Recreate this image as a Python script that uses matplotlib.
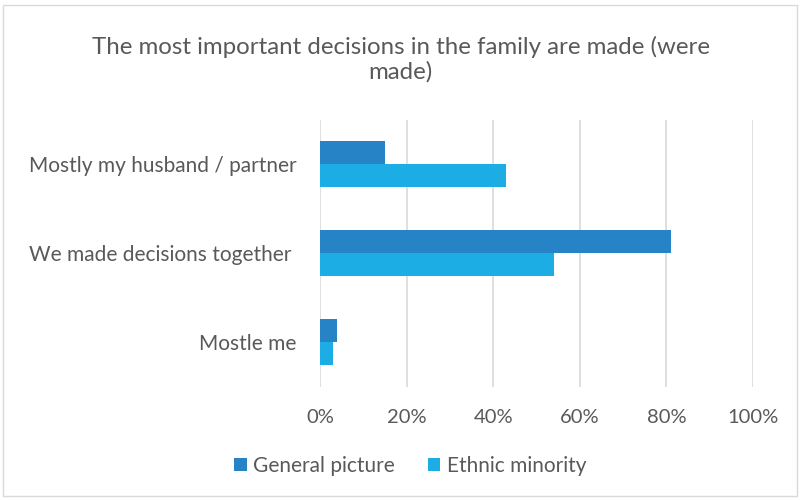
import numpy as np
import matplotlib.pyplot as plt
from matplotlib.patches import Rectangle

categories = ['Mostle me', 'We made decisions together ', 'Mostly my husband / partner']
general = [4, 81, 15]
ethnic = [3, 54, 43]
series_names = ['General picture', 'Ethnic minority']
xticks = [0, 20, 40, 60, 80, 100]

GREY = '#595959'
plt.rcParams['font.family'] = ['Lato', 'DejaVu Sans']

fig = plt.figure(figsize=(8.01, 5.0), dpi=100)
ax = fig.add_axes([0.3995, 0.227, 0.5405, 0.534])

y = np.arange(len(categories))
h = 0.26
ax.barh(y + h / 2, general, height=h, color='#2683C6', label=series_names[0], zorder=3)
ax.barh(y - h / 2, ethnic, height=h, color='#1CADE4', label=series_names[1], zorder=3)

ax.set_xlim(0, 100)
ax.set_ylim(-0.5, len(categories) - 0.5)
ax.set_xticks(xticks)
ax.set_xticklabels([f'{t}%' for t in xticks])
ax.set_yticks(y)
ax.set_yticklabels(categories)
ax.tick_params(axis='both', length=0, colors=GREY)
ax.tick_params(axis='x', pad=16, labelsize=14.5)
ax.tick_params(axis='y', pad=17, labelsize=15)
ax.grid(axis='x', color='#D9D9D9', linewidth=1.2, zorder=0)
for s in ax.spines.values():
    s.set_visible(False)

fig.text(0.5, 0.881, 'The most important decisions in the family are made (were\nmade)',
         ha='center', va='center', color=GREY, fontsize=17.3, linespacing=1.2)

fig.legend(loc='center', bbox_to_anchor=(0.512, 0.068), ncol=2, frameon=False,
           fontsize=15, labelcolor=GREY, handlelength=0.6, handleheight=0.6,
           handletextpad=0.3, columnspacing=1.6)

# thin frame around the whole chart
fig.patches.append(Rectangle((0.004, 0.008), 0.991, 0.982, transform=fig.transFigure,
                             fill=False, edgecolor='#D9D9D9', linewidth=1))

fig.savefig('out.png', dpi=100, facecolor='white')
